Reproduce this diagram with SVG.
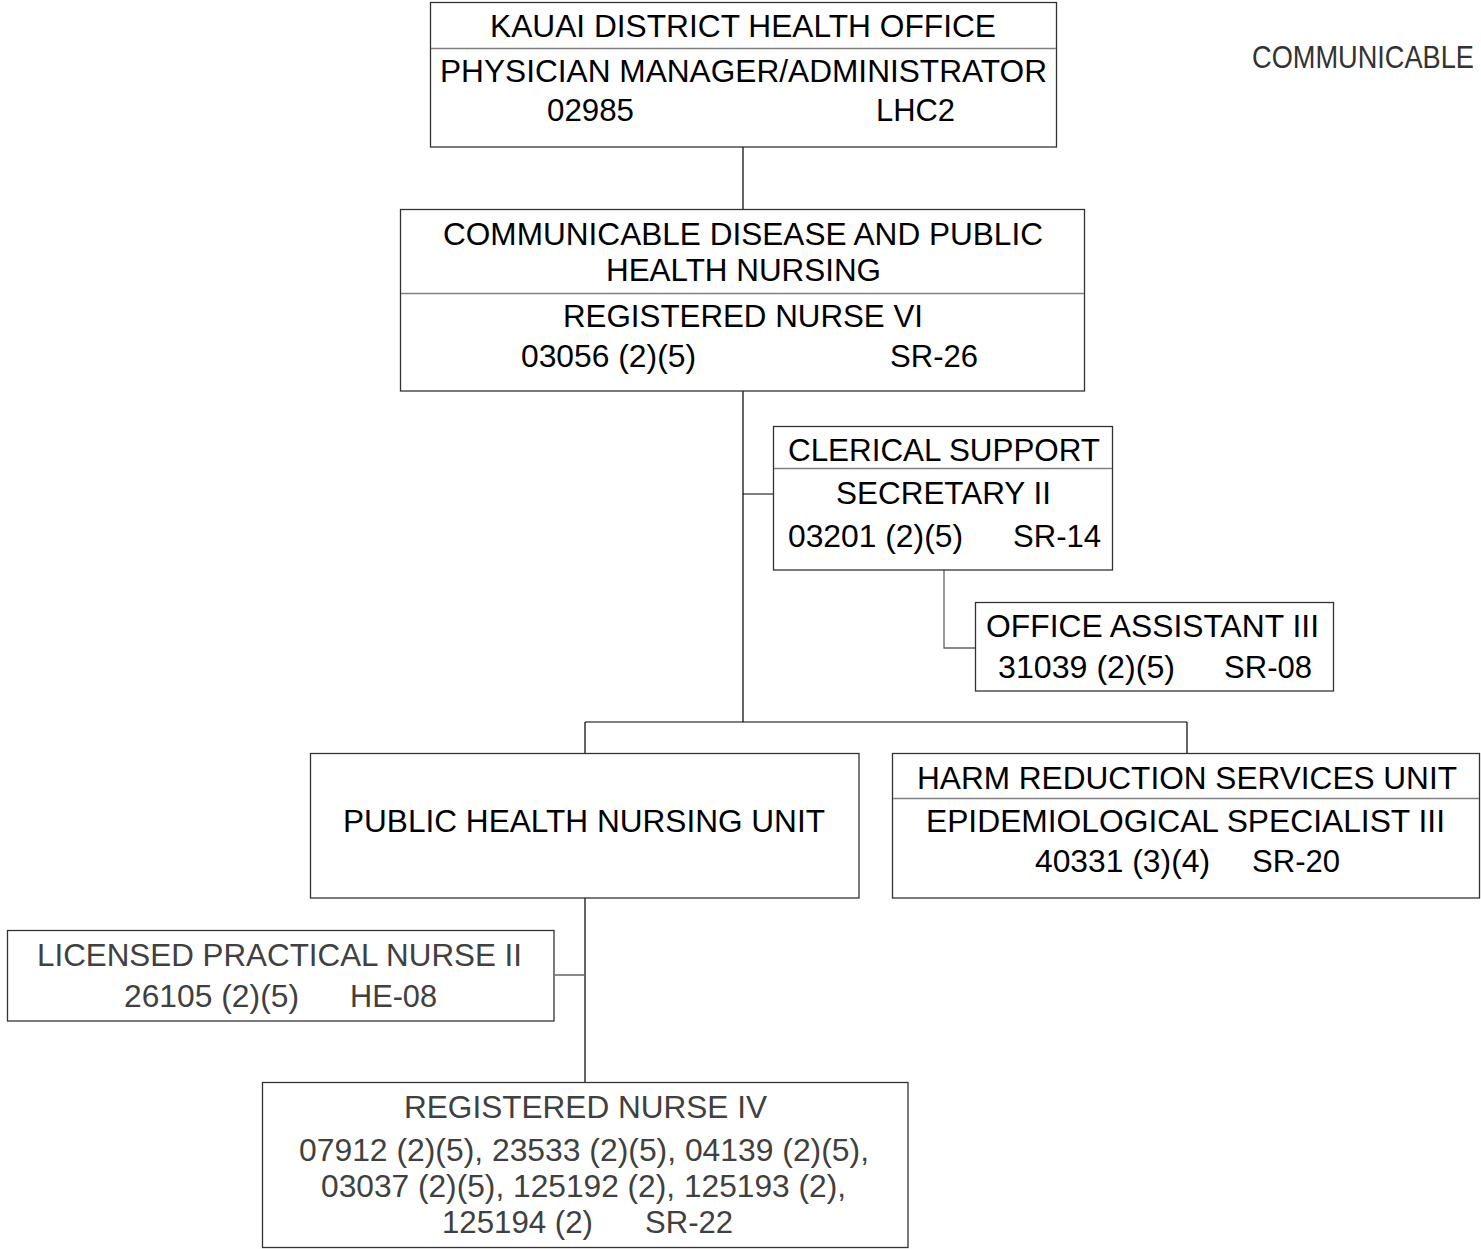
<svg xmlns="http://www.w3.org/2000/svg" width="1481" height="1249" viewBox="0 0 1481 1249">
<style>
text{font-family:"Liberation Sans",Arial,sans-serif;font-size:32px;fill:#000}
.g{fill:#404040}
.c{text-anchor:middle}
.box{fill:#fff;stroke:#333;stroke-width:1.3}
.div{stroke:#808080;stroke-width:1.3}
.ln{stroke:#000;stroke-width:1.2;fill:none}
.lg{stroke:#666;stroke-width:1.3;fill:none}
</style>
<rect width="1481" height="1249" fill="#fff"/>
<text x="1252" y="68" class="g" style="fill:#333" textLength="222" lengthAdjust="spacingAndGlyphs">COMMUNICABLE</text>
<g id="connectors">
<path class="ln" d="M743 147V209M743 391V722M743 494H773M585 722H1187M585 722V753M1187 722V753M585 898V1082"/>
<path class="lg" d="M944 570V648H975M555 975H585"/>
</g>
<g id="kauai">
<rect class="box" x="430.5" y="2.5" width="626" height="144.5"/>
<line class="div" x1="431" y1="48.5" x2="1056" y2="48.5"/>
<text x="743" y="37" class="c" textLength="506" lengthAdjust="spacingAndGlyphs">KAUAI DISTRICT HEALTH OFFICE</text>
<text x="743.5" y="82" class="c" textLength="607" lengthAdjust="spacingAndGlyphs">PHYSICIAN MANAGER/ADMINISTRATOR</text>
<text x="547" y="121" textLength="87" lengthAdjust="spacingAndGlyphs">02985</text>
<text x="876" y="121" textLength="79" lengthAdjust="spacingAndGlyphs">LHC2</text>
</g>
<g id="cdphn">
<rect class="box" x="400.5" y="209.5" width="684" height="181.5"/>
<line class="div" x1="401" y1="293.5" x2="1084" y2="293.5"/>
<text x="743" y="245" class="c" textLength="600" lengthAdjust="spacingAndGlyphs">COMMUNICABLE DISEASE AND PUBLIC</text>
<text x="743.5" y="281" class="c" textLength="275" lengthAdjust="spacingAndGlyphs">HEALTH NURSING</text>
<text x="743" y="327" class="c" textLength="360" lengthAdjust="spacingAndGlyphs">REGISTERED NURSE VI</text>
<text x="521" y="367" textLength="175" lengthAdjust="spacingAndGlyphs">03056 (2)(5)</text>
<text x="890" y="367" textLength="88" lengthAdjust="spacingAndGlyphs">SR-26</text>
</g>
<g id="clerical">
<rect class="box" x="773.5" y="426.5" width="339" height="143.5"/>
<line class="div" x1="774" y1="468.5" x2="1112" y2="468.5"/>
<text x="944" y="461" class="c" textLength="312" lengthAdjust="spacingAndGlyphs">CLERICAL SUPPORT</text>
<text x="943.5" y="504" class="c" textLength="215" lengthAdjust="spacingAndGlyphs">SECRETARY II</text>
<text x="788" y="547" textLength="175" lengthAdjust="spacingAndGlyphs">03201 (2)(5)</text>
<text x="1013" y="547" textLength="88" lengthAdjust="spacingAndGlyphs">SR-14</text>
</g>
<g id="office-assistant">
<rect class="box" x="975.5" y="602.5" width="358" height="88.5"/>
<text x="1152.5" y="637" class="c" textLength="333" lengthAdjust="spacingAndGlyphs">OFFICE ASSISTANT III</text>
<text x="998" y="678" textLength="177" lengthAdjust="spacingAndGlyphs">31039 (2)(5)</text>
<text x="1224" y="678" textLength="88" lengthAdjust="spacingAndGlyphs">SR-08</text>
</g>
<g id="phn-unit">
<rect class="box" x="310.5" y="753.5" width="548.5" height="144.5"/>
<text x="584" y="832" class="c" textLength="482" lengthAdjust="spacingAndGlyphs">PUBLIC HEALTH NURSING UNIT</text>
</g>
<g id="harm-reduction">
<rect class="box" x="892.5" y="753.5" width="587" height="144.5"/>
<line class="div" x1="893" y1="798.5" x2="1479" y2="798.5"/>
<text x="1187" y="789" class="c" textLength="540" lengthAdjust="spacingAndGlyphs">HARM REDUCTION SERVICES UNIT</text>
<text x="1185.5" y="832" class="c" textLength="519" lengthAdjust="spacingAndGlyphs">EPIDEMIOLOGICAL SPECIALIST III</text>
<text x="1035" y="872" textLength="175" lengthAdjust="spacingAndGlyphs">40331 (3)(4)</text>
<text x="1252" y="872" textLength="88" lengthAdjust="spacingAndGlyphs">SR-20</text>
</g>
<g id="lpn">
<rect class="box" x="7.5" y="930.5" width="546.5" height="90.5"/>
<text x="279.5" y="966" class="c g" textLength="485" lengthAdjust="spacingAndGlyphs">LICENSED PRACTICAL NURSE II</text>
<text x="124" y="1007" class="g" textLength="175" lengthAdjust="spacingAndGlyphs">26105 (2)(5)</text>
<text x="350" y="1007" class="g" textLength="87" lengthAdjust="spacingAndGlyphs">HE-08</text>
</g>
<g id="rn4">
<rect class="box" x="262.5" y="1082.5" width="645.5" height="165"/>
<text x="585.5" y="1118" class="c g" textLength="363" lengthAdjust="spacingAndGlyphs">REGISTERED NURSE IV</text>
<text x="584" y="1161" class="c g" textLength="570" lengthAdjust="spacingAndGlyphs">07912 (2)(5), 23533 (2)(5), 04139 (2)(5),</text>
<text x="583.5" y="1197" class="c g" textLength="525" lengthAdjust="spacingAndGlyphs">03037 (2)(5), 125192 (2), 125193 (2),</text>
<text x="442" y="1233" class="g" textLength="151" lengthAdjust="spacingAndGlyphs">125194 (2)</text>
<text x="645" y="1233" class="g" textLength="88" lengthAdjust="spacingAndGlyphs">SR-22</text>
</g>
</svg>
